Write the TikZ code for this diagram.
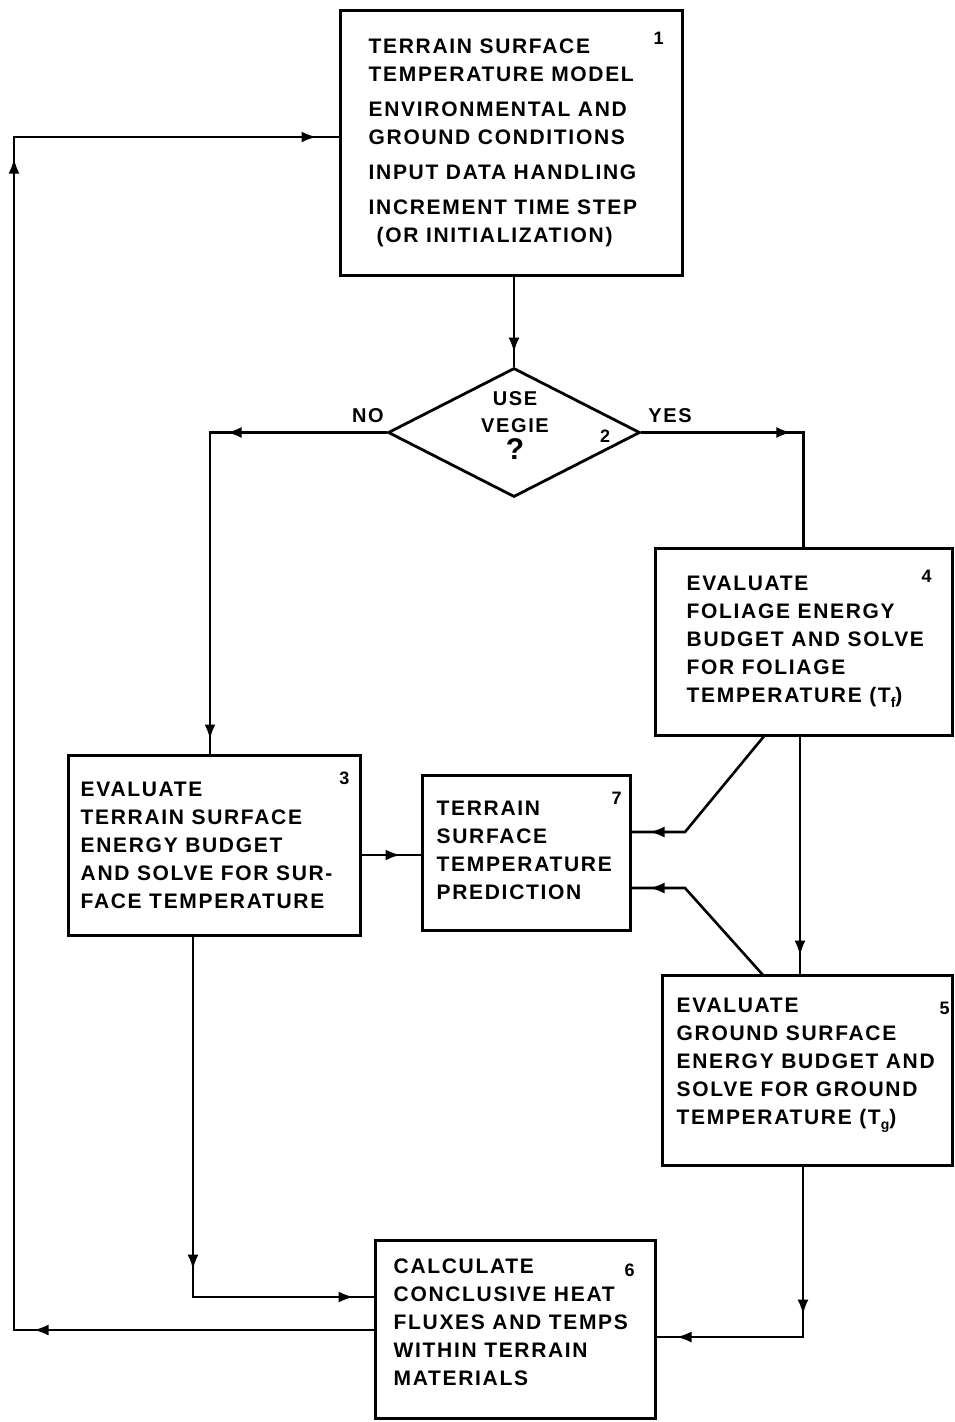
\documentclass[tikz,border=0pt]{standalone}
\usepackage{fontspec}
\setmainfont{Liberation Sans}[LetterSpace=8]
\usetikzlibrary{shapes.geometric,decorations.markings,arrows.meta}
\newcommand{\lowsub}[1]{\raisebox{-5pt}{\fontsize{14}{14}\selectfont #1}}
\tikzset{
  box/.style={draw, line width=3pt, inner sep=0pt},
  txt/.style={anchor=west, align=left, inner sep=0pt, font=\fontsize{21}{28}\selectfont\bfseries},
  num/.style={inner sep=0pt, font=\fontsize{18}{18}\selectfont\bfseries},
  conn/.style={line width=2.6pt, line join=miter},
  thin conn/.style={line width=2.1pt},
  tip at/.style={postaction={decorate,decoration={markings,mark=at position #1 with {\arrow{Latex[length=15pt,width=11pt]}}}}},
}
\begin{document}
\begin{tikzpicture}[x=1pt,y=-1pt]
\useasboundingbox (0,0) rectangle (955,1422);
% boxes
\node[box, minimum width=342pt, minimum height=265pt] (b1) at (511,142.5) {};
\node[diamond, draw, line width=2.8pt, inner sep=0pt, shape aspect=1.95, minimum width=252pt, minimum height=129pt] (d) at (514,432.5) {};
\node[box, minimum width=297pt, minimum height=187pt] (b4) at (803.5,641.5) {};
\node[box, minimum width=292pt, minimum height=180pt] (b3) at (214,845) {};
\node[box, minimum width=208pt, minimum height=155pt] (b7) at (526,852.5) {};
\node[box, minimum width=290pt, minimum height=190pt] (b5) at (807,1070) {};
\node[box, minimum width=280pt, minimum height=178pt] (b6) at (515,1329) {};
% texts
\node[txt] (t1) at ([xshift=30pt]b1.west) {TERRAIN SURFACE\\TEMPERATURE MODEL\\[7pt]ENVIRONMENTAL AND\\GROUND CONDITIONS\\[7pt]INPUT DATA HANDLING\\[7pt]INCREMENT TIME STEP\\\hspace*{8pt}(OR INITIALIZATION)};
\node[num] (n1) at ([xshift=-25pt,yshift=-30pt]b1.north east) {1};
\node[align=center, inner sep=0pt, font=\fontsize{20}{27}\selectfont\bfseries] (td) at (515,426) {USE\\VEGIE\\{\fontsize{30}{27}\selectfont ?}};
\node[num] (n2) at (605,436) {2};
\node[inner sep=0pt, font=\fontsize{20}{20}\selectfont\bfseries] (no) at (368,416) {NO};
\node[inner sep=0pt, font=\fontsize{20}{20}\selectfont\bfseries] (yes) at (670,416) {YES};
\node[txt] (t4) at ([xshift=33pt]b4.west) {EVALUATE\\FOLIAGE ENERGY\\BUDGET AND SOLVE\\FOR FOLIAGE\\TEMPERATURE (T\lowsub{f})};
\node[num] (n4) at ([xshift=-27pt,yshift=-30pt]b4.north east) {4};
\node[txt] (t3) at ([xshift=14pt]b3.west) {EVALUATE\\TERRAIN SURFACE\\ENERGY BUDGET\\AND SOLVE FOR SUR-\\FACE TEMPERATURE};
\node[num] (n3) at ([xshift=-17pt,yshift=-25pt]b3.north east) {3};
\node[txt] (t7) at ([xshift=16pt,yshift=2pt]b7.west) {TERRAIN\\SURFACE\\TEMPERATURE\\PREDICTION};
\node[num] (n7) at ([xshift=-15pt,yshift=-25pt]b7.north east) {7};
\node[txt] (t5) at ([xshift=16pt,yshift=5pt]b5.west) {EVALUATE\\GROUND SURFACE\\ENERGY BUDGET AND\\SOLVE FOR GROUND\\TEMPERATURE (T\lowsub{g})};
\node[num] (n5) at ([xshift=-9pt,yshift=-35pt]b5.north east) {5};
\node[txt] (t6) at ([xshift=20pt,yshift=7pt]b6.west) {CALCULATE\\CONCLUSIVE HEAT\\FLUXES AND TEMPS\\WITHIN TERRAIN\\MATERIALS};
\node[num] (n6) at ([xshift=-27pt,yshift=-32pt]b6.north east) {6};
% helper coordinates
\coordinate (nL) at (210,432.5);
\coordinate (yR) at (803.5,432.5);
\coordinate (p4a) at (765,735);
\coordinate (p4b) at (685,832);
\coordinate (p5) at (800,735);
\coordinate (p6a) at (763,975);
\coordinate (p6b) at (685,888);
\coordinate (m7) at (400,855);
\coordinate (c8) at (193,1297);
\coordinate (c9) at (803,1337);
\coordinate (c10a) at (14,1330);
\coordinate (c10b) at (14,137);
% connectors
\draw[conn, tip at=-14pt] (d.north |- b1.south) -- (d.north);
\draw[conn, tip at=160pt, tip at=-14pt] (d.west) -- (nL) -- (nL |- b3.north);
\draw[conn, tip at=150pt] (d.east) -- (yR) -- (yR |- b4.north);
\draw[conn, tip at=-18pt] (p4a) -- (p4b) -- (b7.east |- p4b);
\draw[thin conn, tip at=-18pt] (b4.south -| p5) -- (b5.north -| p5);
\draw[conn, tip at=-18pt] (p6a) -- (p6b) -- (b7.east |- p6b);
\draw[conn, tip at=-20pt] (b3.east |- m7) -- (b7.west |- m7);
\draw[thin conn, tip at=333pt, tip at=-20pt] (b3.south -| c8) -- (c8) -- (b6.west |- c8);
\draw[thin conn, tip at=148pt, tip at=-20pt] (b5.south -| c9) -- (c9) -- (b6.east |- c9);
\draw[conn, tip at=340pt, tip at=1531pt, tip at=-22pt] (b6.west |- c10a) -- (c10a) -- (c10b) -- (b1.west |- c10b);
\end{tikzpicture}
\end{document}
